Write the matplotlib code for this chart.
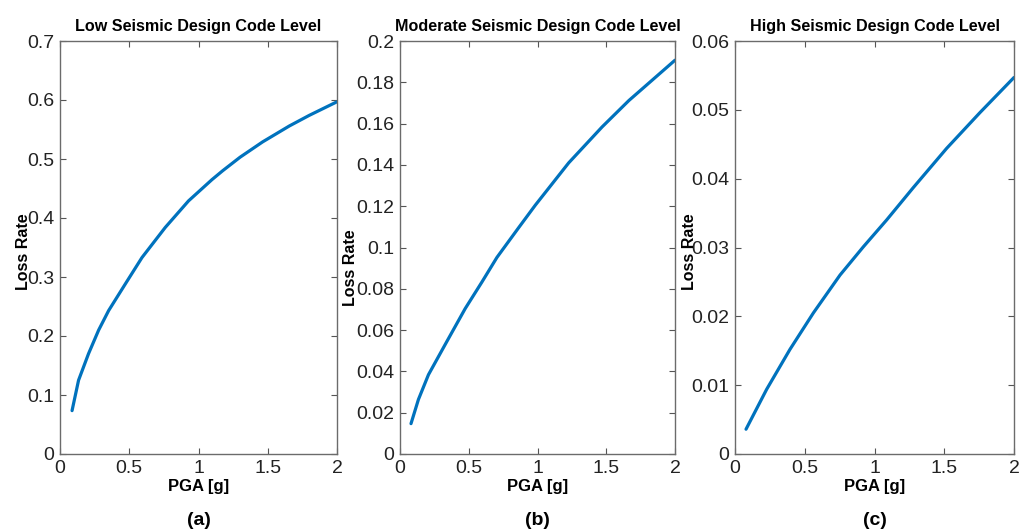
import numpy as np
import matplotlib.pyplot as plt

plt.rcParams['font.family'] = ['Liberation Sans', 'DejaVu Sans']

# values
pga_low = [0.087, 0.134, 0.206, 0.279, 0.351, 0.471, 0.592, 0.760, 0.928, 1.097, 1.174, 1.30,
           1.463, 1.656, 1.80, 2.0]
loss_low = [0.0735, 0.125, 0.170, 0.210, 0.243, 0.288, 0.333, 0.384, 0.429, 0.465, 0.480, 0.503,
            0.529, 0.556, 0.574, 0.597]

pga_mod = [0.080, 0.134, 0.207, 0.340, 0.474, 0.595, 0.705, 0.863, 0.984, 1.227, 1.470, 1.665, 2.0]
loss_mod = [0.0147, 0.0264, 0.0384, 0.0544, 0.0704, 0.0832, 0.0952, 0.1096, 0.1205, 0.1410,
            0.1584, 0.1712, 0.1907]

pga_high = [0.079, 0.227, 0.394, 0.562, 0.753, 0.920, 1.087, 1.278, 1.517, 1.756, 2.0]
loss_high = [0.0036, 0.0094, 0.0152, 0.0205, 0.0260, 0.0301, 0.0340, 0.0387, 0.0444, 0.0496,
             0.0547]

titles = ["Low Seismic Design Code Level", "Moderate Seismic Design Code Level",
          "High Seismic Design Code Level"]
tags = ["(a)", "(b)", "(c)"]
ylims = [0.7, 0.2, 0.06]
ysteps = [0.1, 0.02, 0.01]

fig = plt.figure(figsize=(10.25, 5.31), dpi=100)
boxes = [[60, 277], [400, 275], [735, 279]]
ylab_pos = [(-0.105, 0.49), (-0.153, 0.45), (-0.136, 0.49)]
data = [(pga_low, loss_low), (pga_mod, loss_mod), (pga_high, loss_high)]

W, H = 1025, 531
for i in range(3):
    left, width = boxes[i]
    ax = fig.add_axes([left / W, (H - 454) / H, width / W, 413 / H])
    x, y = data[i]
    ax.plot(x, y, color='#0072BD', lw=2.3, solid_capstyle='round')
    ax.set_xlim(0, 2)
    ax.set_ylim(0, ylims[i])
    ax.set_xticks([0, 0.5, 1, 1.5, 2])
    ax.set_xticklabels(['0', '0.5', '1', '1.5', '2'])
    yt = np.arange(0, ylims[i] + ysteps[i] / 2, ysteps[i])
    ax.set_yticks(yt)
    ax.set_yticklabels(['0'] + ['%g' % round(v, 3) for v in yt[1:]])
    ax.tick_params(direction='in', top=True, right=True, length=4, width=0.8,
                   color='#555555', labelsize=14, labelcolor='#222222')
    ax.tick_params(axis='x', pad=4)
    ax.tick_params(axis='y', pad=4)
    for s in ax.spines.values():
        s.set_color('#6b6b6b')
        s.set_linewidth(1.0)
    ax.set_title(titles[i], fontsize=11.6, fontweight='bold', pad=7)
    ax.set_xlabel('PGA [g]', fontsize=12, fontweight='bold', labelpad=2)
    ax.set_ylabel('Loss Rate', fontsize=11.5, fontweight='bold')
    ax.yaxis.set_label_coords(*ylab_pos[i])
    ax.text(0.5, -0.16, tags[i], transform=ax.transAxes, ha='center', va='center',
            fontsize=14, fontweight='bold')

fig.savefig('out.png', dpi=100)
